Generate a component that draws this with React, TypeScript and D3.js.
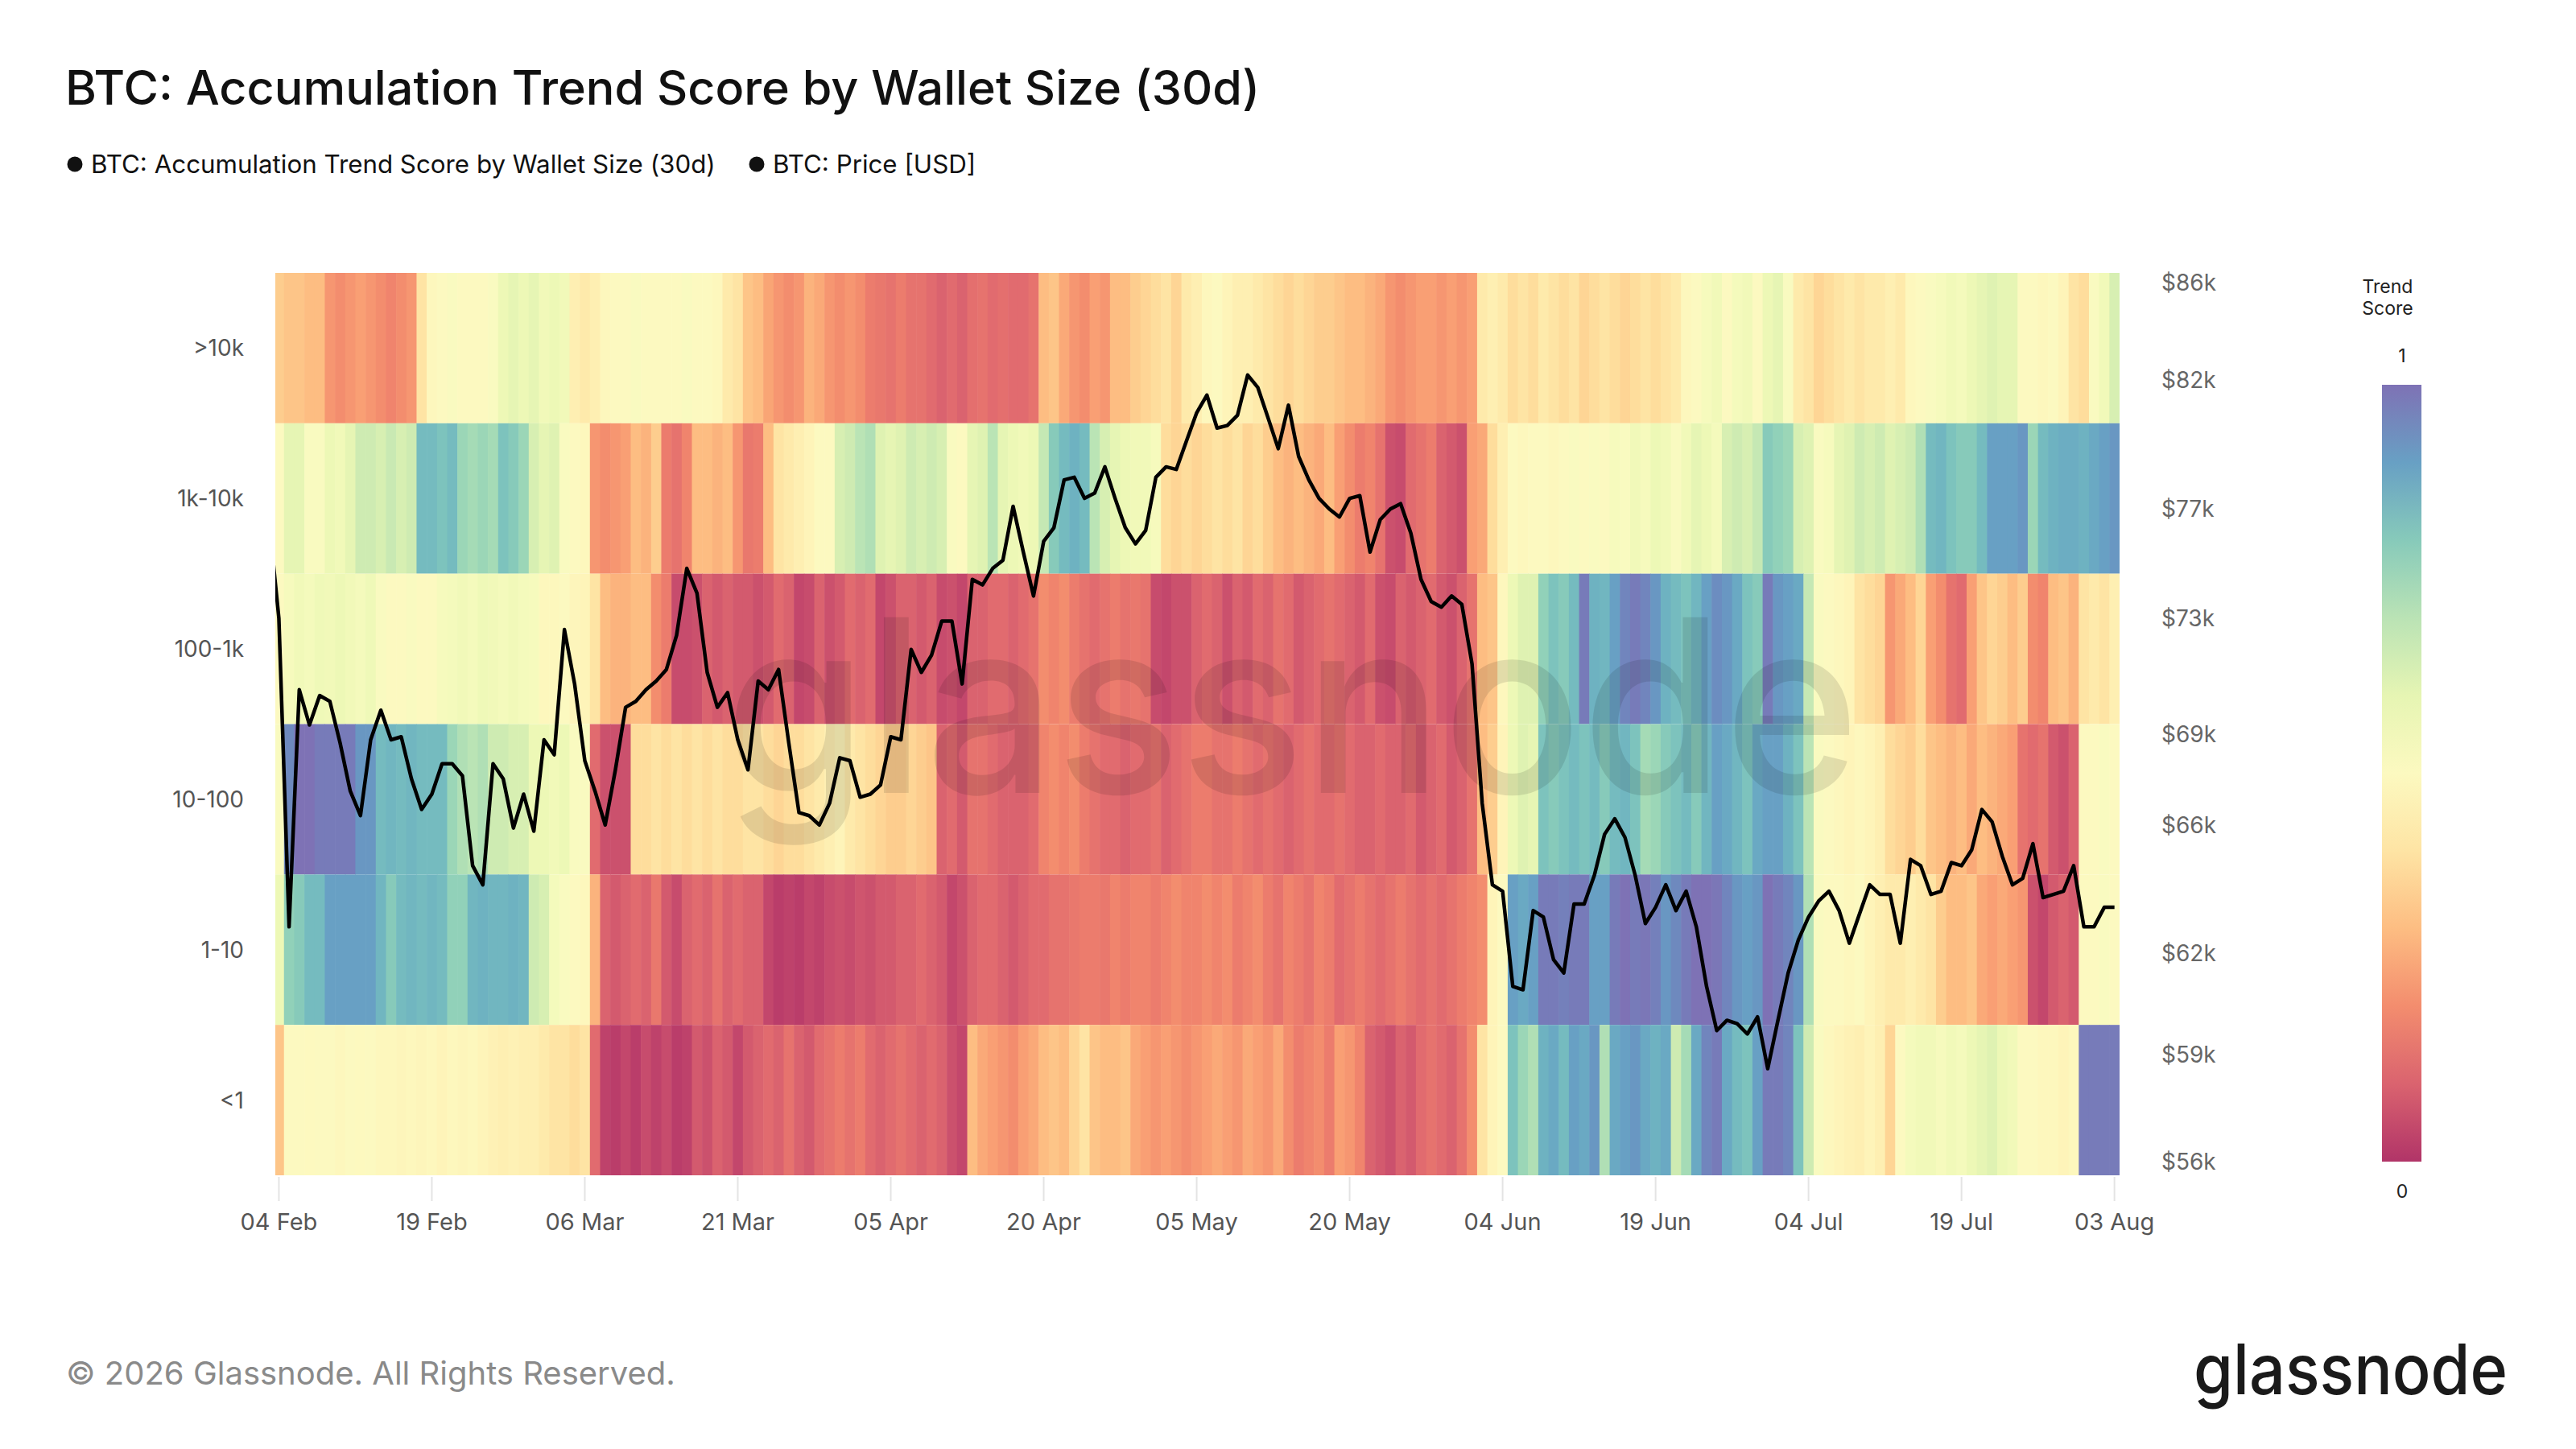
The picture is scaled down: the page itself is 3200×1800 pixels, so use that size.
import * as d3 from 'd3'

const rowLabels = ['>10k', '1k-10k', '100-1k', '10-100', '1-10', '<1']

// daily trend score per wallet cohort, 04 Feb .. 03 Aug
const scoreGt10k = [
  0.34, 0.32, 0.32, 0.3, 0.3, 0.22, 0.2, 0.22, 0.24, 0.22,
  0.2, 0.18, 0.2, 0.22, 0.4, 0.48, 0.5, 0.52, 0.5, 0.5,
  0.5, 0.52, 0.58, 0.6, 0.58, 0.6, 0.56, 0.58, 0.56, 0.44,
  0.42, 0.44, 0.48, 0.5, 0.5, 0.52, 0.5, 0.5, 0.5, 0.5,
  0.52, 0.5, 0.5, 0.48, 0.42, 0.4, 0.32, 0.3, 0.25, 0.22,
  0.2, 0.22, 0.28, 0.26, 0.22, 0.2, 0.22, 0.2, 0.16, 0.15,
  0.14, 0.16, 0.14, 0.14, 0.12, 0.1, 0.12, 0.1, 0.13, 0.14,
  0.12, 0.13, 0.12, 0.12, 0.14, 0.3, 0.32, 0.26, 0.22, 0.2,
  0.24, 0.22, 0.3, 0.3, 0.34, 0.36, 0.38, 0.4, 0.36, 0.42,
  0.44, 0.48, 0.5, 0.46, 0.44, 0.44, 0.42, 0.4, 0.38, 0.36,
  0.38, 0.36, 0.34, 0.34, 0.32, 0.3, 0.3, 0.28, 0.26, 0.22,
  0.2, 0.22, 0.24, 0.24, 0.22, 0.24, 0.22, 0.24, 0.42, 0.44,
  0.42, 0.38, 0.4, 0.38, 0.42, 0.4, 0.38, 0.4, 0.36, 0.38,
  0.4, 0.38, 0.36, 0.38, 0.4, 0.38, 0.4, 0.42, 0.48, 0.5,
  0.54, 0.56, 0.5, 0.55, 0.56, 0.5, 0.58, 0.6, 0.52, 0.42,
  0.4, 0.36, 0.38, 0.4, 0.42, 0.4, 0.42, 0.42, 0.44, 0.42,
  0.48, 0.5, 0.52, 0.54, 0.56, 0.55, 0.58, 0.6, 0.62, 0.6,
  0.6, 0.5, 0.5, 0.48, 0.5, 0.46, 0.4, 0.38, 0.52, 0.56,
  0.64,
]

const score1kTo10k = [
  0.5, 0.6, 0.6, 0.52, 0.52, 0.58, 0.56, 0.6, 0.66, 0.66,
  0.64, 0.67, 0.64, 0.66, 0.84, 0.84, 0.82, 0.84, 0.76, 0.74,
  0.76, 0.74, 0.82, 0.8, 0.76, 0.64, 0.6, 0.62, 0.52, 0.5,
  0.48, 0.22, 0.2, 0.22, 0.24, 0.3, 0.28, 0.34, 0.16, 0.14,
  0.18, 0.3, 0.3, 0.28, 0.3, 0.22, 0.15, 0.16, 0.3, 0.4,
  0.42, 0.44, 0.46, 0.5, 0.5, 0.64, 0.66, 0.7, 0.72, 0.62,
  0.6, 0.62, 0.66, 0.64, 0.66, 0.64, 0.52, 0.5, 0.6, 0.62,
  0.7, 0.6, 0.58, 0.56, 0.58, 0.68, 0.8, 0.84, 0.86, 0.84,
  0.7, 0.64, 0.6, 0.58, 0.56, 0.56, 0.54, 0.38, 0.36, 0.38,
  0.36, 0.38, 0.4, 0.38, 0.4, 0.36, 0.38, 0.34, 0.3, 0.28,
  0.3, 0.28, 0.26, 0.3, 0.24, 0.2, 0.16, 0.18, 0.14, 0.06,
  0.05, 0.12, 0.14, 0.16, 0.1, 0.08, 0.06, 0.24, 0.26, 0.38,
  0.44, 0.5, 0.48, 0.5, 0.5, 0.48, 0.5, 0.52, 0.5, 0.52,
  0.5, 0.54, 0.52, 0.56, 0.54, 0.58, 0.56, 0.52, 0.56, 0.6,
  0.58, 0.55, 0.64, 0.66, 0.64, 0.68, 0.8, 0.78, 0.76, 0.64,
  0.62, 0.52, 0.54, 0.6, 0.62, 0.66, 0.64, 0.66, 0.62, 0.64,
  0.66, 0.72, 0.84, 0.85, 0.82, 0.8, 0.8, 0.84, 0.9, 0.9,
  0.9, 0.92, 0.76, 0.84, 0.86, 0.87, 0.87, 0.86, 0.88, 0.9,
  0.92,
]

const score100To1k = [
  0.5, 0.54, 0.56, 0.55, 0.57, 0.56, 0.58, 0.56, 0.55, 0.57,
  0.52, 0.5, 0.5, 0.52, 0.5, 0.5, 0.54, 0.55, 0.56, 0.55,
  0.57, 0.56, 0.55, 0.56, 0.55, 0.54, 0.48, 0.48, 0.5, 0.47,
  0.46, 0.4, 0.3, 0.28, 0.28, 0.3, 0.3, 0.2, 0.16, 0.05,
  0.05, 0.06, 0.1, 0.08, 0.1, 0.08, 0.08, 0.06, 0.08, 0.12,
  0.1, 0.04, 0.05, 0.1, 0.06, 0.08, 0.12, 0.1, 0.12, 0.04,
  0.06, 0.1, 0.1, 0.08, 0.1, 0.05, 0.06, 0.04, 0.1, 0.1,
  0.12, 0.12, 0.1, 0.12, 0.14, 0.2, 0.18, 0.2, 0.16, 0.14,
  0.12, 0.14, 0.16, 0.14, 0.15, 0.14, 0.05, 0.04, 0.06, 0.06,
  0.1, 0.12, 0.1, 0.06, 0.1, 0.08, 0.12, 0.1, 0.14, 0.12,
  0.08, 0.1, 0.12, 0.14, 0.12, 0.1, 0.08, 0.12, 0.06, 0.05,
  0.1, 0.08, 0.1, 0.12, 0.08, 0.06, 0.1, 0.14, 0.3, 0.32,
  0.48, 0.58, 0.62, 0.62, 0.78, 0.82, 0.8, 0.84, 0.98, 0.86,
  0.85, 0.9, 0.96, 0.98, 0.96, 0.92, 0.86, 0.84, 0.82, 0.85,
  0.9, 0.94, 0.92, 0.88, 0.82, 0.8, 0.98, 0.92, 0.9, 0.88,
  0.68, 0.52, 0.5, 0.48, 0.46, 0.4, 0.38, 0.36, 0.22, 0.26,
  0.3, 0.36, 0.24, 0.2, 0.14, 0.12, 0.24, 0.32, 0.36, 0.34,
  0.3, 0.34, 0.2, 0.18, 0.3, 0.32, 0.28, 0.4, 0.42, 0.4,
  0.44,
]

const score10To100 = [
  0.52, 0.95, 1.0, 1.0, 0.98, 0.98, 0.98, 0.98, 0.92, 0.92,
  0.84, 0.85, 0.84, 0.85, 0.84, 0.84, 0.84, 0.76, 0.72, 0.7,
  0.72, 0.66, 0.66, 0.64, 0.64, 0.58, 0.58, 0.56, 0.58, 0.52,
  0.52, 0.12, 0.06, 0.06, 0.06, 0.38, 0.38, 0.4, 0.38, 0.4,
  0.38, 0.4, 0.38, 0.4, 0.38, 0.38, 0.4, 0.4, 0.38, 0.36,
  0.38, 0.38, 0.4, 0.42, 0.44, 0.46, 0.42, 0.4, 0.38, 0.36,
  0.34, 0.34, 0.36, 0.34, 0.32, 0.1, 0.12, 0.08, 0.14, 0.14,
  0.12, 0.1, 0.1, 0.1, 0.12, 0.18, 0.2, 0.18, 0.2, 0.16,
  0.14, 0.12, 0.12, 0.1, 0.12, 0.12, 0.14, 0.1, 0.12, 0.14,
  0.16, 0.16, 0.14, 0.14, 0.16, 0.14, 0.12, 0.14, 0.12, 0.1,
  0.12, 0.14, 0.12, 0.12, 0.14, 0.12, 0.1, 0.1, 0.12, 0.1,
  0.1, 0.12, 0.08, 0.1, 0.12, 0.08, 0.1, 0.14, 0.3, 0.34,
  0.46, 0.58, 0.62, 0.6, 0.82, 0.8, 0.82, 0.84, 0.82, 0.84,
  0.8, 0.84, 0.85, 0.82, 0.74, 0.76, 0.8, 0.82, 0.84, 0.8,
  0.85, 0.9, 0.88, 0.85, 0.82, 0.88, 0.9, 0.9, 0.86, 0.82,
  0.7, 0.52, 0.5, 0.48, 0.46, 0.48, 0.46, 0.44, 0.38, 0.36,
  0.34, 0.38, 0.32, 0.3, 0.28, 0.3, 0.26, 0.3, 0.28, 0.26,
  0.24, 0.14, 0.12, 0.14, 0.08, 0.06, 0.1, 0.5, 0.5, 0.52,
  0.5,
]

const score1To10 = [
  0.58, 0.78, 0.8, 0.84, 0.84, 0.9, 0.9, 0.9, 0.9, 0.9,
  0.85, 0.8, 0.84, 0.85, 0.84, 0.85, 0.84, 0.78, 0.78, 0.85,
  0.86, 0.85, 0.85, 0.86, 0.85, 0.66, 0.64, 0.55, 0.52, 0.5,
  0.48, 0.28, 0.1, 0.08, 0.1, 0.12, 0.1, 0.15, 0.08, 0.05,
  0.1, 0.12, 0.1, 0.14, 0.1, 0.12, 0.1, 0.1, 0.04, 0.02,
  0.03, 0.02, 0.04, 0.03, 0.05, 0.06, 0.05, 0.07, 0.06, 0.08,
  0.08, 0.1, 0.1, 0.12, 0.1, 0.08, 0.04, 0.06, 0.1, 0.12,
  0.12, 0.1, 0.08, 0.1, 0.12, 0.12, 0.14, 0.14, 0.15, 0.16,
  0.16, 0.15, 0.18, 0.16, 0.18, 0.18, 0.16, 0.18, 0.2, 0.18,
  0.18, 0.2, 0.18, 0.2, 0.16, 0.18, 0.2, 0.16, 0.14, 0.18,
  0.16, 0.14, 0.18, 0.16, 0.12, 0.14, 0.16, 0.14, 0.12, 0.14,
  0.16, 0.14, 0.12, 0.14, 0.12, 0.14, 0.16, 0.18, 0.2, 0.46,
  0.5, 0.9, 0.88, 0.9, 0.98, 0.98, 0.97, 0.98, 0.98, 0.9,
  0.9, 0.98, 1.0, 0.98, 0.99, 0.97, 0.92, 0.95, 0.98, 1.0,
  1.0, 0.99, 0.96, 0.92, 0.9, 0.92, 1.0, 0.98, 0.96, 0.92,
  0.72, 0.52, 0.5, 0.5, 0.48, 0.5, 0.46, 0.44, 0.42, 0.42,
  0.44, 0.42, 0.4, 0.34, 0.3, 0.3, 0.32, 0.26, 0.24, 0.26,
  0.24, 0.22, 0.06, 0.04, 0.08, 0.1, 0.08, 0.5, 0.5, 0.52,
  0.5,
]

const scoreLt1 = [
  0.32, 0.5, 0.5, 0.49, 0.5, 0.5, 0.48, 0.5, 0.49, 0.5,
  0.48, 0.48, 0.47, 0.48, 0.47, 0.48, 0.46, 0.48, 0.47, 0.48,
  0.46, 0.45, 0.44, 0.45, 0.44, 0.44, 0.42, 0.4, 0.4, 0.38,
  0.4, 0.12, 0.03, 0.02, 0.04, 0.02, 0.05, 0.03, 0.05, 0.02,
  0.03, 0.08, 0.06, 0.1, 0.08, 0.04, 0.08, 0.1, 0.12, 0.1,
  0.14, 0.1, 0.08, 0.12, 0.14, 0.16, 0.14, 0.16, 0.12, 0.1,
  0.12, 0.14, 0.12, 0.1, 0.12, 0.1, 0.06, 0.04, 0.3, 0.26,
  0.24, 0.22, 0.2, 0.24, 0.26, 0.3, 0.32, 0.3, 0.36, 0.4,
  0.32, 0.3, 0.3, 0.32, 0.26, 0.24, 0.22, 0.24, 0.22, 0.2,
  0.22, 0.24, 0.26, 0.24, 0.22, 0.26, 0.24, 0.22, 0.26, 0.2,
  0.16, 0.18, 0.2, 0.16, 0.24, 0.22, 0.18, 0.1, 0.08, 0.06,
  0.1, 0.08, 0.12, 0.14, 0.12, 0.1, 0.14, 0.2, 0.4, 0.46,
  0.5, 0.82, 0.76, 0.72, 0.86, 0.88, 0.84, 0.9, 0.88, 0.92,
  0.72, 0.88, 0.9, 0.92, 0.88, 0.86, 0.88, 0.66, 0.74, 0.88,
  0.96, 0.98, 0.88, 0.84, 0.82, 0.9, 0.98, 0.98, 0.96, 0.82,
  0.66, 0.52, 0.48, 0.46, 0.45, 0.44, 0.46, 0.44, 0.36, 0.5,
  0.55, 0.56, 0.56, 0.54, 0.56, 0.55, 0.58, 0.6, 0.62, 0.58,
  0.56, 0.5, 0.5, 0.48, 0.48, 0.46, 0.48, 0.98, 0.98, 0.98,
  0.98,
]

const scoreRows = [scoreGt10k, score1kTo10k, score100To1k, score10To100, score1To10, scoreLt1]

// BTC price in USD thousands, 03 Feb .. 03 Aug (first day sits just left of the axis)
const priceK = [
  76.7,
  73.0, 62.8, 70.5, 69.3, 70.3, 70.1, 68.7, 67.1, 66.3, 68.8,
  69.8, 68.8, 68.9, 67.5, 66.5, 67.0, 68.0, 68.0, 67.6, 64.7,
  64.1, 68.0, 67.5, 65.9, 67.0, 65.8, 68.8, 68.3, 72.6, 70.7,
  68.1, 67.1, 66.0, 67.8, 69.9, 70.1, 70.5, 70.8, 71.2, 72.4,
  74.8, 73.9, 71.1, 69.9, 70.4, 68.8, 67.8, 70.8, 70.5, 71.2,
  68.7, 66.4, 66.3, 66.0, 66.7, 68.2, 68.1, 66.9, 67.0, 67.3,
  68.9, 68.8, 71.9, 71.1, 71.7, 72.9, 72.9, 70.7, 74.4, 74.2,
  74.8, 75.1, 77.1, 75.4, 73.8, 75.8, 76.3, 78.1, 78.2, 77.4,
  77.6, 78.6, 77.4, 76.3, 75.7, 76.2, 78.2, 78.6, 78.5, 79.6,
  80.7, 81.4, 80.1, 80.2, 80.6, 82.2, 81.7, 80.5, 79.3, 81.0,
  79.0, 78.1, 77.4, 77.0, 76.7, 77.4, 77.5, 75.4, 76.6, 77.0,
  77.2, 76.1, 74.4, 73.6, 73.4, 73.8, 73.5, 71.4, 66.7, 64.1,
  63.9, 61.0, 60.9, 63.3, 63.1, 61.8, 61.4, 63.5, 63.5, 64.4,
  65.7, 66.2, 65.6, 64.4, 62.9, 63.4, 64.1, 63.3, 63.9, 62.8,
  61.0, 59.7, 60.0, 59.9, 59.6, 60.1, 58.6, 60.0, 61.4, 62.4,
  63.1, 63.6, 63.9, 63.3, 62.3, 63.2, 64.1, 63.8, 63.8, 62.3,
  64.9, 64.7, 63.8, 63.9, 64.8, 64.7, 65.2, 66.5, 66.1, 65.0,
  64.1, 64.3, 65.4, 63.7, 63.8, 63.9, 64.7, 62.8, 62.8, 63.4,
  63.4,
]

const priceTicks = [56000, 59000, 62000, 66000, 69000, 73000, 77000, 82000, 86000]

const startDate = new Date(2026, 1, 4)
const dayCount = 181

const FONT = "Inter, 'Noto Sans', sans-serif"

// light Spectral, as if laid at 80% over white
const scoreColor = (v: number) => d3.interpolateRgb('#ffffff', d3.interpolateSpectral(v))(0.8)

export default function App() {
  const W = 3200
  const H = 1800
  const plot = { left: 342, right: 2633, top: 339, bottom: 1460 }

  const x = d3.scaleLinear().domain([-0.35, dayCount - 0.5]).range([plot.left, plot.right])
  const y = d3.scaleLog().domain([55630, 86400]).range([plot.bottom, plot.top])
  const rowBand = d3.scaleBand<string>().domain(rowLabels).range([plot.top, plot.bottom]).padding(0)

  const line = d3
    .line<number>()
    .x((_, i) => x(i - 1))
    .y(p => y(p * 1000))

  const xTicks = d3.range(0, dayCount, 15)
  const fmt = d3.timeFormat('%d %b')

  const barTop = 478
  const barBottom = 1443
  const stops = d3.range(0, 1.0001, 0.1)

  return (
    <svg
      width={W}
      height={H}
      style={{ position: 'absolute', left: 0, top: 0, background: '#fff' }}
      fontFamily={FONT}
    >
      <defs>
        <clipPath id="plot-clip">
          <rect x={plot.left} y={plot.top} width={plot.right - plot.left} height={plot.bottom - plot.top} />
        </clipPath>
        <linearGradient id="score-grad" x1="0" y1="1" x2="0" y2="0">
          {stops.map(s => (
            <stop key={s} offset={s} stopColor={scoreColor(s)} />
          ))}
        </linearGradient>
      </defs>

      <text x={81} y={130} fontSize={59.3} fontWeight={500} fill="#111">
        BTC: Accumulation Trend Score by Wallet Size (30d)
      </text>

      <circle cx={93} cy={204} r={9.5} fill="#111" />
      <text x={113} y={215} fontSize={31.3} fill="#111">
        BTC: Accumulation Trend Score by Wallet Size (30d)
      </text>
      <circle cx={940} cy={204} r={9.5} fill="#111" />
      <text x={960} y={215} fontSize={31.3} fill="#111">
        BTC: Price [USD]
      </text>

      <g clipPath="url(#plot-clip)">
        {scoreRows.map((row, r) =>
          row.map((v, d) => (
            <rect
              key={`${r}-${d}`}
              x={x(d - 0.5)}
              y={rowBand(rowLabels[r])}
              width={x(d + 0.5) - x(d - 0.5) + 0.6}
              height={rowBand.bandwidth()}
              fill={scoreColor(v)}
            />
          )),
        )}
        <text
          x={900}
          y={985}
          fontSize={300}
          fontWeight={500}
          fill="#000"
          opacity={0.1}
          textLength={1410}
          lengthAdjust="spacingAndGlyphs"
        >
          glassnode
        </text>
        <path d={line(priceK) ?? ''} fill="none" stroke="#000" strokeWidth={4.5} strokeLinejoin="round" />
      </g>

      {rowLabels.map(l => (
        <text
          key={l}
          x={303}
          y={(rowBand(l) ?? 0) + rowBand.bandwidth() / 2 + 10}
          fontSize={28}
          textAnchor="end"
          fill="#555"
        >
          {l}
        </text>
      ))}

      {xTicks.map(t => (
        <g key={t}>
          <line x1={x(t)} x2={x(t)} y1={plot.bottom + 2} y2={plot.bottom + 32} stroke="#e4e4e4" strokeWidth={2} />
          <text x={x(t)} y={1528} fontSize={29} textAnchor="middle" fill="#555">
            {fmt(d3.timeDay.offset(startDate, t))}
          </text>
        </g>
      ))}

      {priceTicks.map(p => (
        <text key={p} x={2685} y={y(p) + 10} fontSize={28} fill="#666">
          {`$${Math.round(p / 1000)}k`}
        </text>
      ))}

      <text x={2966} y={364} fontSize={23} textAnchor="middle" fill="#222">
        Trend
      </text>
      <text x={2966} y={391} fontSize={23} textAnchor="middle" fill="#222">
        Score
      </text>
      <text x={2984} y={450} fontSize={23} textAnchor="middle" fill="#222">
        1
      </text>
      <rect x={2959} y={barTop} width={49} height={barBottom - barTop} fill="url(#score-grad)" />
      <text x={2984} y={1488} fontSize={23} textAnchor="middle" fill="#222">
        0
      </text>

      <text x={82} y={1720} fontSize={40} fill="#8a8a8a">
        © 2026 Glassnode. All Rights Reserved.
      </text>
      <text x={2725} y={1732} fontSize={86} fontWeight={500} fill="#1a1a1a" textLength={390} lengthAdjust="spacingAndGlyphs">
        glassnode
      </text>
    </svg>
  )
}
